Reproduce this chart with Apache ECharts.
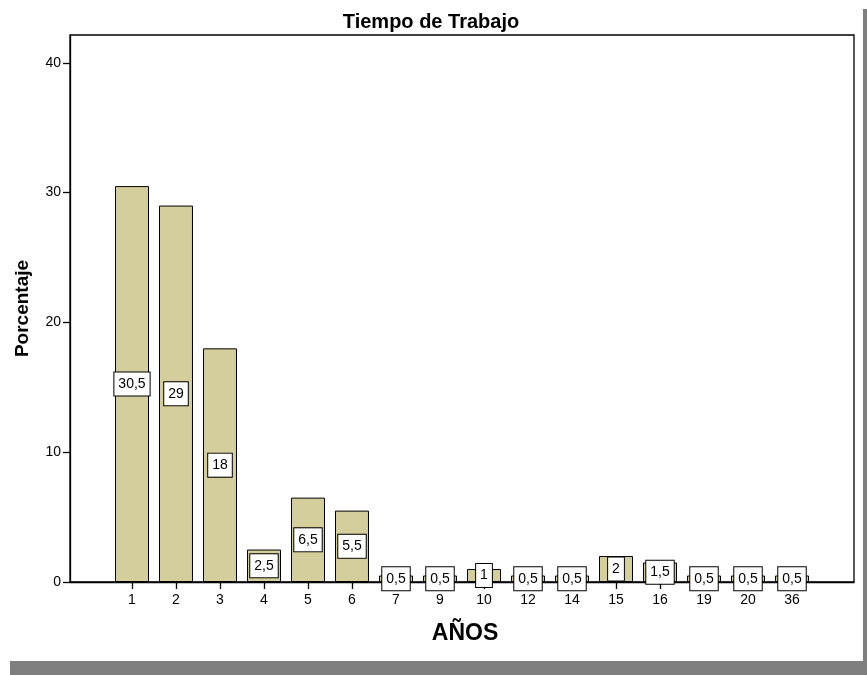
<!DOCTYPE html>
<html>
<head>
<meta charset="utf-8">
<title>Tiempo de Trabajo</title>
<script src="https://cdn.jsdelivr.net/npm/echarts@6/dist/echarts.min.js"></script>
<style>
  html, body { margin: 0; padding: 0; background: #ffffff; }
  #chart { width: 867px; height: 675px; }
</style>
</head>
<body>
<div id="chart"></div>
<script>
// Años de trabajo (categorías) y porcentaje de casos en cada una
const categories = ['1', '2', '3', '4', '5', '6', '7', '9', '10', '12', '14', '15', '16', '19', '20', '36'];
const percentages = [30.5, 29, 18, 2.5, 6.5, 5.5, 0.5, 0.5, 1, 0.5, 0.5, 2, 1.5, 0.5, 0.5, 0.5];
const yTicks = [0, 10, 20, 30, 40];

const FONT = 'Liberation Sans, Arial, sans-serif';
const positions = categories.map((_, i) => i);

const chart = echarts.init(document.getElementById('chart'), null, { renderer: 'canvas' });

chart.setOption({
  animation: false,
  backgroundColor: '#ffffff',
  title: {
    text: 'Tiempo de Trabajo',
    left: 426,
    top: 7,
    textAlign: 'center',
    textStyle: { fontFamily: FONT, fontSize: 20, fontWeight: 'bold', color: '#000' }
  },
  grid: {
    left: 70, top: 35, right: 13, bottom: 93,
    show: true,
    borderColor: '#000',
    borderWidth: 1.3,
    backgroundColor: '#ffffff'
  },
  xAxis: {
    type: 'value',
    min: -1.409,
    max: 16.409,
    name: 'AÑOS',
    nameLocation: 'middle',
    nameGap: 40,
    nameTextStyle: { fontFamily: FONT, fontSize: 23, fontWeight: 'bold', color: '#000', padding: [0, 0, 0, 6] },
    splitLine: { show: false },
    axisLine: { show: true, onZero: false, lineStyle: { color: '#000', width: 1.3 } },
    axisTick: {
      show: true, length: 7, inside: false,
      customValues: positions,
      lineStyle: { color: '#000', width: 1.3 }
    },
    axisLabel: {
      customValues: positions,
      margin: 11,
      fontFamily: FONT, fontSize: 14, color: '#000',
      formatter: (v) => categories[Math.round(v)]
    }
  },
  yAxis: {
    type: 'value',
    min: 0,
    max: 42.14,
    name: 'Porcentaje',
    nameLocation: 'middle',
    nameGap: 38,
    nameTextStyle: { fontFamily: FONT, fontSize: 19, fontWeight: 'bold', color: '#000' },
    splitLine: { show: false },
    axisLine: { show: true, onZero: false, lineStyle: { color: '#000', width: 1.3 } },
    axisTick: {
      show: true, length: 7, inside: false,
      customValues: yTicks,
      lineStyle: { color: '#000', width: 1.3 }
    },
    axisLabel: {
      customValues: yTicks,
      margin: 9,
      fontFamily: FONT, fontSize: 14, color: '#000'
    }
  },
  series: [{
    type: 'bar',
    barWidth: 34,
    data: percentages.map((v, i) => [i, v]),
    itemStyle: { color: '#d3ce9b', borderColor: '#000', borderWidth: 1 },
    label: {
      show: true,
      position: 'inside',
      formatter: (p) => String(p.value[1]).replace('.', ','),
      fontFamily: FONT, fontSize: 14, color: '#000',
      backgroundColor: '#ffffff',
      borderColor: '#000', borderWidth: 1,
      padding: [5, 4, 4, 4]
    },
    z: 2
  }],
  graphic: [
    // marco gris inferior y lateral
    { type: 'rect', shape: { x: 10, y: 661, width: 857, height: 14 }, style: { fill: '#7f7f7f' }, silent: true },
    { type: 'rect', shape: { x: 863, y: 9, width: 4, height: 652 }, style: { fill: '#7f7f7f' }, silent: true }
  ]
});
</script>
</body>
</html>
